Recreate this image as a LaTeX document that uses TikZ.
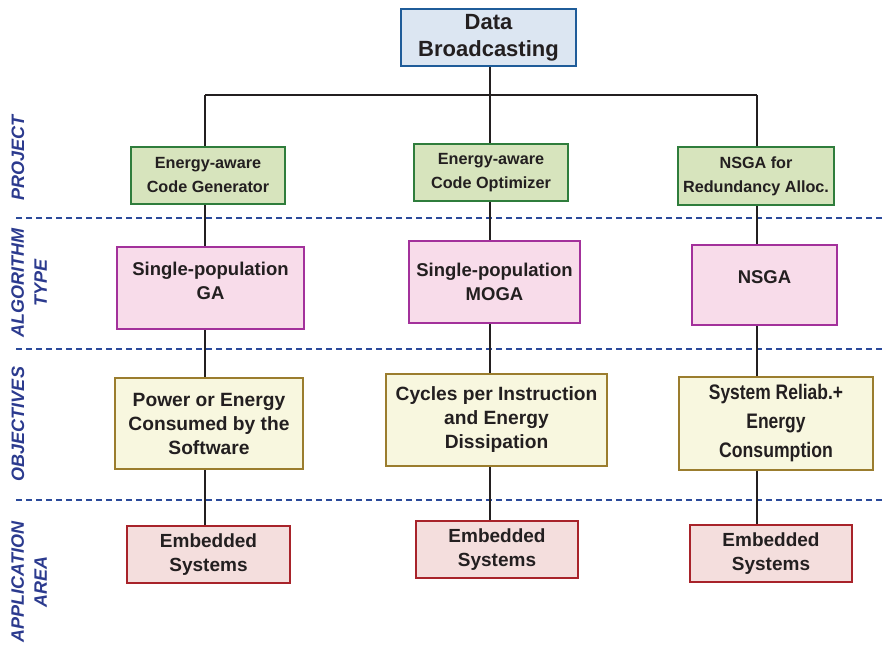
\documentclass[tikz,border=0pt]{standalone}
\usepackage{fontspec}
\setmainfont{Liberation Sans}
\usetikzlibrary{calc}

\definecolor{inkgray}{HTML}{231F20}
\definecolor{topfill}{HTML}{DCE6F2}
\definecolor{topline}{HTML}{1F5C99}
\definecolor{projfill}{HTML}{D7E4BD}
\definecolor{projline}{HTML}{2F7D3C}
\definecolor{algofill}{HTML}{F8DCEA}
\definecolor{algoline}{HTML}{A3319B}
\definecolor{objfill}{HTML}{F8F7DF}
\definecolor{objline}{HTML}{9B7D2E}
\definecolor{appfill}{HTML}{F4DEDD}
\definecolor{appline}{HTML}{A8232A}
\definecolor{rowline}{HTML}{2B4A9B}
\definecolor{rowtext}{HTML}{2B3A8E}

\tikzset{
  box/.style={draw, line width=2pt, align=center, inner sep=0pt, text=inkgray,
    font=\bfseries\fontsize{18.5}{24}\selectfont},
  topbox/.style={box, fill=topfill, draw=topline, font=\bfseries\fontsize{22}{27}\selectfont},
  projbox/.style={box, fill=projfill, draw=projline, font=\bfseries\fontsize{16.2}{24}\selectfont},
  algobox/.style={box, fill=algofill, draw=algoline},
  objbox/.style={box, fill=objfill, draw=objline, font=\bfseries\fontsize{19.2}{24}\selectfont},
  appbox/.style={box, fill=appfill, draw=appline, font=\bfseries\fontsize{19}{24}\selectfont},
  link/.style={draw=inkgray, line width=2pt},
  rowsep/.style={draw=rowline, line width=2pt, dash pattern=on 6pt off 4pt},
  rowlabel/.style={text=rowtext, rotate=90, align=center, inner sep=0pt,
    font=\bfseries\itshape\fontsize{18}{23}\selectfont}
}

\begin{document}
\begin{tikzpicture}[x=1pt, y=-1pt]
\useasboundingbox (0,0) rectangle (882,650);

% row separators
\draw[rowsep] (16,218) -- (882,218);
\draw[rowsep] (16,349) -- (882,349);
\draw[rowsep] (16,500) -- (882,500);

% row labels
\node[rowlabel] (lproj) at (18,158) {PROJECT};
\node[rowlabel] (lalgo) at (29,283) {ALGORITHM\\TYPE};
\node[rowlabel] (lobj)  at (18,424) {OBJECTIVES};
\node[rowlabel] (lapp)  at (29,582) {APPLICATION\\AREA};

% column axes
\coordinate (colL) at (205,95);
\coordinate (colM) at (490,95);
\coordinate (colR) at (757,95);

% root
\node[topbox, minimum width=175pt, minimum height=57pt] (root) at (488.5,37.5)
  {Data\\Broadcasting};

% projects
\node[projbox, minimum width=154pt, minimum height=57pt] (pL) at (208,175.5)
  {Energy-aware\\Code Generator};
\node[projbox, minimum width=154pt, minimum height=57pt] (pM) at (491,172.5)
  {Energy-aware\\Code Optimizer};
\node[projbox, minimum width=156pt, minimum height=58pt] (pR) at (756,176)
  {NSGA for\\Redundancy Alloc.};

% algorithm types
\node[algobox, minimum width=187pt, minimum height=82pt, text depth=14pt] (aL) at (210.5,288)
  {Single-population\\GA};
\node[algobox, minimum width=171pt, minimum height=82pt] (aM) at (494.5,282)
  {Single-population\\MOGA};
\node[algobox, minimum width=145pt, minimum height=80pt, text depth=16pt] (aR) at (764.5,285)
  {NSGA};

% objectives
\node[objbox, minimum width=188pt, minimum height=91pt] (oL) at (209,423.5)
  {Power or Energy\\Consumed by the\\Software};
\node[objbox, minimum width=221pt, minimum height=92pt] (oM) at (496.5,420)
  {Cycles per Instruction\\and Energy\\Dissipation};
\node[objbox, minimum width=194pt, minimum height=93pt,
  font=\bfseries\fontsize{21}{29}\selectfont] (oR) at (776,423.5)
  {\scalebox{0.83}[1]{System Reliab.+}\\\scalebox{0.83}[1]{Energy}\\\scalebox{0.84}[1]{Consumption}};

% application areas
\node[appbox, minimum width=163pt, minimum height=57pt] (eL) at (208.5,554.5)
  {Embedded\\Systems};
\node[appbox, minimum width=162pt, minimum height=57pt] (eM) at (497,549.5)
  {Embedded\\Systems};
\node[appbox, minimum width=162pt, minimum height=57pt] (eR) at (771,553.5)
  {Embedded\\Systems};

% tree connectors
\draw[link] (root.south -| colM) -- (colM);
\draw[link] (colL) -- (colR);
\draw[link] (colL) -- (colL |- pL.north);
\draw[link] (colM) -- (colM |- pM.north);
\draw[link] (colR) -- (colR |- pR.north);

\draw[link] (colL |- pL.south) -- (colL |- aL.north);
\draw[link] (colM |- pM.south) -- (colM |- aM.north);
\draw[link] (colR |- pR.south) -- (colR |- aR.north);

\draw[link] (colL |- aL.south) -- (colL |- oL.north);
\draw[link] (colM |- aM.south) -- (colM |- oM.north);
\draw[link] (colR |- aR.south) -- (colR |- oR.north);

\draw[link] (colL |- oL.south) -- (colL |- eL.north);
\draw[link] (colM |- oM.south) -- (colM |- eM.north);
\draw[link] (colR |- oR.south) -- (colR |- eR.north);
\end{tikzpicture}
\end{document}
